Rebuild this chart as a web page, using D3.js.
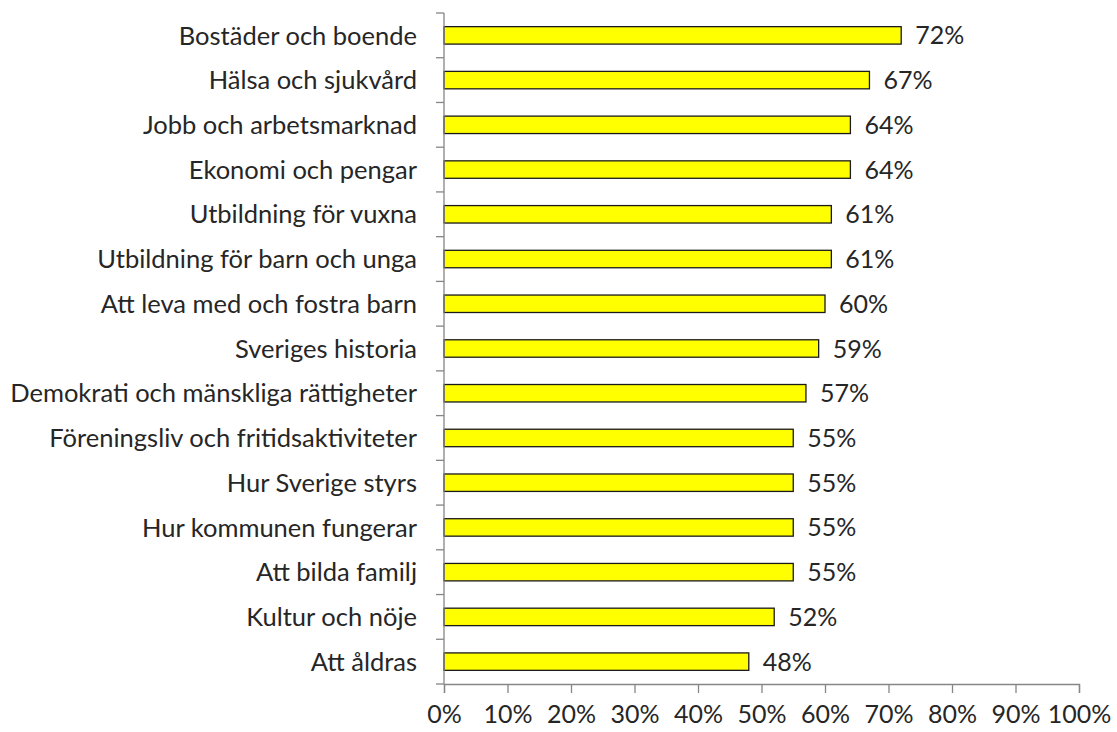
<!DOCTYPE html>
<html>
<head>
<meta charset="utf-8">
<script src="https://cdn.jsdelivr.net/npm/d3@7"></script>
<style>
  body { margin: 0; background: #fff; }
  svg text { font-family: Lato, "Open Sans", sans-serif; fill: #262626; }
</style>
</head>
<body>
<svg id="chart" width="1117" height="732"></svg>
<script>
// data
const categories = [
    'Bostäder och boende',
    'Hälsa och sjukvård',
    'Jobb och arbetsmarknad',
    'Ekonomi och pengar',
    'Utbildning för vuxna',
    'Utbildning för barn och unga',
    'Att leva med och fostra barn',
    'Sveriges historia',
    'Demokrati och mänskliga rättigheter',
    'Föreningsliv och fritidsaktiviteter',
    'Hur Sverige styrs',
    'Hur kommunen fungerar',
    'Att bilda familj',
    'Kultur och nöje',
    'Att åldras'
];
const values = [72, 67, 64, 64, 61, 61, 60, 59, 57, 55, 55, 55, 55, 52, 48];
const xTicks = [0, 10, 20, 30, 40, 50, 60, 70, 80, 90, 100];

const svg = d3.select('#chart');
const margin = { left: 444, right: 38, top: 13, bottom: 48 };
const width = 1117, height = 732;
const fontSize = 25;
const catFontSize = 25.5;

const x = d3.scaleLinear().domain([0, 100]).range([margin.left, width - margin.right]);
const y = d3.scaleBand().domain(categories).range([margin.top, height - margin.bottom])
    .paddingInner(0.61).paddingOuter(0.305);
const yTicks = d3.scaleBand().domain(categories).range([margin.top, height - margin.bottom]);

const axisColor = '#868686';

// bars
svg.selectAll('rect.bar')
    .data(categories)
    .enter()
    .append('rect')
    .attr('class', 'bar')
    .attr('x', x(0))
    .attr('y', d => y(d))
    .attr('width', (d, i) => x(values[i]) - x(0))
    .attr('height', y.bandwidth())
    .attr('fill', '#ffff00')
    .attr('stroke', '#1a1a1a')
    .attr('stroke-width', 1.3);

// value labels
svg.selectAll('text.val')
    .data(categories)
    .enter()
    .append('text')
    .attr('class', 'val')
    .attr('x', (d, i) => x(values[i]) + 14)
    .attr('y', d => y(d) + y.bandwidth() / 2)
    .attr('dy', '0.36em')
    .attr('font-size', fontSize)
    .text((d, i) => values[i] + '%');

// y axis line with category separators
const yAxis = svg.append('g');
yAxis.append('line')
    .attr('x1', x(0)).attr('x2', x(0))
    .attr('y1', margin.top).attr('y2', height - margin.bottom)
    .attr('stroke', axisColor).attr('stroke-width', 1.3);
yAxis.selectAll('line.sep')
    .data(categories.concat(['end']))
    .enter()
    .append('line')
    .attr('x1', x(0) - 8).attr('x2', x(0))
    .attr('y1', (d, i) => margin.top + i * yTicks.bandwidth())
    .attr('y2', (d, i) => margin.top + i * yTicks.bandwidth())
    .attr('stroke', axisColor).attr('stroke-width', 1.3);

// category labels
svg.selectAll('text.cat')
    .data(categories)
    .enter()
    .append('text')
    .attr('class', 'cat')
    .attr('x', x(0) - 27)
    .attr('y', d => yTicks(d) + yTicks.bandwidth() / 2)
    .attr('dy', '0.36em')
    .attr('text-anchor', 'end')
    .attr('font-size', catFontSize)
    .text(d => d);

// x axis
const xAxis = svg.append('g')
    .attr('transform', `translate(0,${height - margin.bottom})`)
    .call(d3.axisBottom(x).tickValues(xTicks).tickSize(9).tickPadding(12).tickFormat(d => d + '%'));
xAxis.select('.domain').attr('stroke', axisColor).attr('stroke-width', 1.3);
xAxis.selectAll('.tick line').attr('stroke', axisColor).attr('stroke-width', 1.3);
xAxis.selectAll('.tick text')
    .attr('font-size', fontSize)
    .attr('font-family', 'Lato, "Open Sans", sans-serif')
    .attr('fill', '#262626');
</script>
</body>
</html>
